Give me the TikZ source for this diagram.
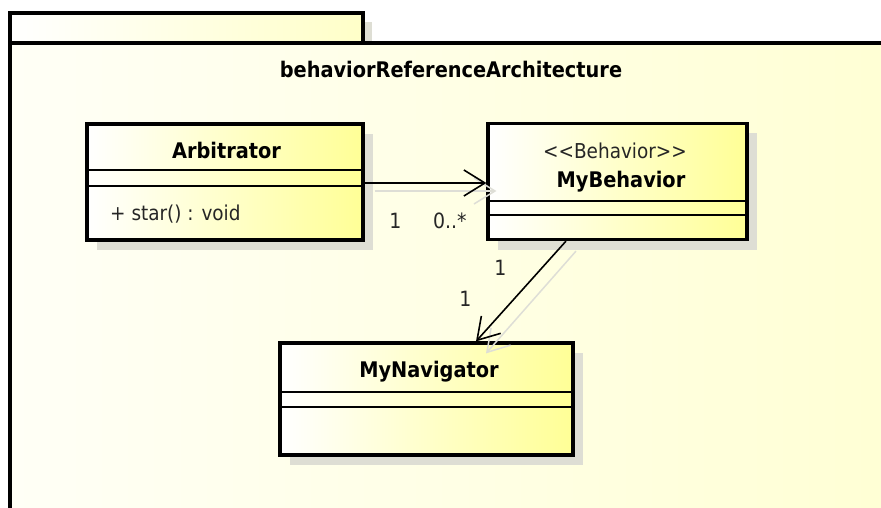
\documentclass[tikz,border=0pt]{standalone}
\usepackage{fontspec}
\setmainfont{DejaVu Sans Condensed}
\usetikzlibrary{arrows.meta,calc,shadows}
\definecolor{boxyellow}{RGB}{255,255,150}
\definecolor{pkgyellow}{RGB}{255,255,212}
\definecolor{pkgwhite}{RGB}{255,255,246}
\definecolor{tabyellow}{RGB}{255,255,200}
\definecolor{shadowgray}{RGB}{222,222,212}
\definecolor{ghostgray}{RGB}{222,222,214}
\begin{document}
\begin{tikzpicture}[x=1pt,y=-1pt,
  classbox/.style={rectangle, draw, line width=3.2pt, inner sep=0pt,
    left color=white, right color=boxyellow,
    drop shadow={shadow xshift=10pt, shadow yshift=-10pt, fill=shadowgray, opacity=1}},
  divider/.style={line width=1.6pt},
  nametext/.style={font=\fontsize{21.5}{24}\selectfont\bfseries, inner sep=0pt},
  plaintext/.style={font=\fontsize{20.5}{24}\selectfont, inner sep=0pt, text=black!85},
  multtext/.style={font=\fontsize{21}{24}\selectfont, inner sep=0pt, text=black!85},
  assoc/.style={line width=1.6pt, -{Straight Barb[length=21pt, width=26pt, line width=1.6pt]}},
  ghost/.style={line width=1.5pt, draw=ghostgray, -{Straight Barb[length=21pt, width=26pt, line width=1.5pt]}},
]
\useasboundingbox (0,0) rectangle (881,508);
\clip (0,0) rectangle (881,508);
\fill[white] (0,0) rectangle (881,508);

% package frame: tab and body
\fill[shadowgray] (363,22) rectangle (372,43);
\shade[left color=white, right color=tabyellow] (10,13) rectangle (363,43);
\draw[line width=3.2pt] (10,43) |- (363,13) -- (363,43);
\shade[left color=pkgwhite, right color=pkgyellow] (10,43) rectangle (900,530);
\draw[line width=3.2pt] (10,530) -- (10,43) -- (900,43);
\node[nametext, anchor=base] (pkgname) at (451,78) {behaviorReferenceArchitecture};

% classes
\node[classbox, minimum width=276pt, minimum height=116pt] (arb) at (225,182) {};
\node[classbox, minimum width=259pt, minimum height=116pt] (beh) at (617.5,181.5) {};
\node[classbox, minimum width=293pt, minimum height=112pt] (nav) at (426.5,399) {};

% compartments
\draw[divider] (arb.west |- 0,170) -- (arb.east |- 0,170);
\draw[divider] (arb.west |- 0,186) -- (arb.east |- 0,186);
\draw[divider] (beh.west |- 0,201) -- (beh.east |- 0,201);
\draw[divider] (beh.west |- 0,215) -- (beh.east |- 0,215);
\draw[divider] (nav.west |- 0,392) -- (nav.east |- 0,392);
\draw[divider] (nav.west |- 0,407) -- (nav.east |- 0,407);

% class texts
\node[nametext, anchor=base] (arbname) at (226.5,158) {Arbitrator};
\node[plaintext, anchor=base west] (arbop) at (110,220) {+ star() : void};
\node[plaintext, anchor=base] (behstereo) at (615,158) {<{}<Behavior>{}>};
\node[nametext, anchor=base] (behname) at (621,187) {MyBehavior};
\node[nametext, anchor=base] (navname) at (429,377) {MyNavigator};

% associations (faint offset copies first)
\draw[ghost] ([shift={(10,8)}]arb.east |- 0,183) -- ([shift={(10,8)}]beh.west |- 0,183);
\draw[ghost] ([shift={(-41.5,10)}]beh.south) -- ([shift={(59.5,12)}]nav.north);
\draw[assoc] (arb.east |- 0,183) -- (beh.west |- 0,183);
\draw[assoc] ([xshift=-51.5pt]beh.south) -- ([xshift=49.5pt]nav.north);

% multiplicities
\node[multtext, anchor=base] (m1) at (395.5,228) {1};
\node[multtext, anchor=base west] (m2) at (433,228) {0..*};
\node[multtext, anchor=base] (m3) at (500.5,275) {1};
\node[multtext, anchor=base] (m4) at (465.5,306) {1};
\end{tikzpicture}
\end{document}
